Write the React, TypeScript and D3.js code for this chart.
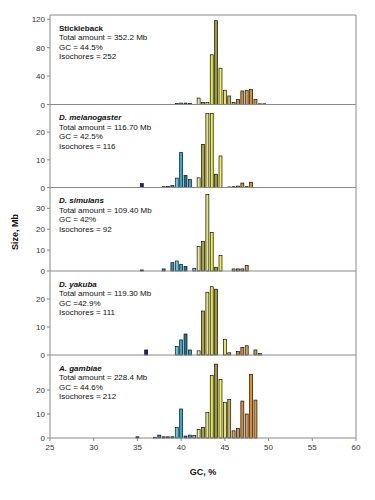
import React from "react";
import * as d3 from "d3";

// GC bins (%), shared by all panels
const gcBins = [35, 35.5, 36, 36.5, 37, 37.5, 38, 38.5, 39, 39.5, 40, 40.5, 41, 41.5, 42, 42.5, 43, 43.5, 44, 44.5, 45, 45.5, 46, 46.5, 47, 47.5, 48, 48.5, 49, 49.5];

// Sizes (Mb) per bin
const sticklebackSize = [0, 0, 0, 0, 0, 0, 0, 0, 0, 1.5, 2, 2, 1.5, 0, 9, 3, 3, 70, 118, 51, 20, 12, 3, 7, 19, 20, 21, 7, 1, 1];
const melanogasterSize = [0, 1.4, 0, 0, 0, 0, 0.3, 0.4, 0.7, 3.4, 12.6, 4.4, 2.9, 0, 3.5, 15.6, 26.7, 26.7, 4.8, 11.4, 0, 0.2, 0.3, 0.5, 1.6, 0.3, 1.9, 0, 0, 0];
const simulansSize = [0, 0.5, 0, 0, 0, 0, 1, 0, 4, 4.8, 3.2, 2.1, 0, 1.3, 11.8, 14.2, 36.7, 18.5, 1.8, 7.4, 0, 0, 1, 1, 1, 2.6, 0, 0, 0, 0];
const yakubaSize = [0, 0, 1.8, 0, 0, 0, 0, 0, 0, 3, 5.4, 7.5, 1.8, 0, 1.5, 15.7, 22.4, 24.4, 23.5, 0, 5.6, 0.8, 0, 1.2, 2.7, 3.3, 0, 1.8, 0.5, 0];
const gambiaeSize = [0.5, 0, 0, 0, 0.3, 1.2, 0.5, 0.5, 0.5, 4.4, 12.1, 0.8, 1.2, 1.0, 3.6, 4.4, 10.6, 26, 30.8, 24.4, 14.9, 16.1, 3.0, 4.0, 15.4, 10, 26.5, 15.8, 0, 0];

// Bar colours per bin
const binColors = ["#1c1c8a", "#1c1c8a", "#1c1c8a", "#24407a", "#2c7c9e", "#2c8cae", "#2c8cae", "#2c8cae", "#3090b0", "#66cce8", "#2eaad4", "#1f7a96", "#34a0c8", "#8fc0c8", "#eeee9a", "#a8a63a", "#e6e670", "#eaea3c", "#9c9a34", "#f4f04a", "#e8e460", "#c4b45c", "#c8a868", "#b89858", "#d88c3a", "#d8a060", "#e88a1c", "#d49a48", "#c8a870", "#c8a870"];

const speciesNames = ["Stickleback", "D. melanogaster", "D. simulans", "D. yakuba", "A. gambiae"];
const speciesItalic = [false, true, true, true, true];
const totalLabels = ["Total amount = 352.2 Mb", "Total amount = 116.70 Mb", "Total amount = 109.40 Mb", "Total amount = 119.30 Mb", "Total amount = 228.4 Mb"];
const gcLabels = ["GC = 44.5%", "GC = 42.5%", "GC = 42%", "GC =42.9%", "GC = 44.6%"];
const isochoreLabels = ["Isochores = 252", "Isochores = 116", "Isochores = 92", "Isochores = 111", "Isochores = 212"];
const panelMax = [126, 30, 40, 30, 34.6];
const panelTicks = [[0, 40, 80, 120], [0, 10, 20], [0, 10, 20, 30], [0, 10, 20], [0, 10, 20]];
const xTicks = [25, 30, 35, 40, 45, 50, 55, 60];

const panelSizes = [sticklebackSize, melanogasterSize, simulansSize, yakubaSize, gambiaeSize];

const W = 375;
const H = 500;
const left = 50;
const right = 356;
const bounds = [15, 104.5, 187.5, 271, 355, 438];
const font = "'Liberation Sans', Arial, sans-serif";

export default function App() {
  const x = d3.scaleLinear().domain([25, 60]).range([left, right]);
  const barW = (x(25.5) - x(25)) * 0.68;
  const axisColor = "#8a8a8a";

  return (
    <svg width={W} height={H} style={{ position: "absolute", left: 0, top: 0, background: "#fff" }} fontFamily={font}>
      <rect x={0} y={0} width={W} height={H} fill="#fff" />
      {panelSizes.map((vals, p) => {
        const top = bounds[p];
        const bottom = bounds[p + 1];
        const y = d3.scaleLinear().domain([0, panelMax[p]]).range([bottom, top]);
        return (
          <g key={p}>
            {gcBins.map((gc, i) =>
              vals[i] > 0 ? (
                <rect
                  key={i}
                  x={x(gc) - barW / 2}
                  y={y(vals[i])}
                  width={barW}
                  height={bottom - y(vals[i])}
                  fill={binColors[i]}
                  stroke="#111"
                  strokeWidth={0.7}
                />
              ) : null
            )}
            <line x1={left} x2={right} y1={bottom} y2={bottom} stroke={axisColor} strokeWidth={1} />
            {panelTicks[p].map((t) => (
              <g key={t}>
                <line x1={left - 3} x2={left} y1={y(t)} y2={y(t)} stroke={axisColor} />
                <text x={left - 5} y={y(t) + 3} fontSize={8} textAnchor="end" fill="#333">
                  {t}
                </text>
              </g>
            ))}
            <text x={59} y={top + 15.5} fontSize={8} fontWeight="bold" fontStyle={speciesItalic[p] ? "italic" : "normal"} fill="#111">
              {speciesNames[p]}
            </text>
            <text x={59} y={top + 25} fontSize={8} fill="#111">{totalLabels[p]}</text>
            <text x={59} y={top + 34.5} fontSize={8} fill="#111">{gcLabels[p]}</text>
            <text x={59} y={top + 44} fontSize={8} fill="#111">{isochoreLabels[p]}</text>
          </g>
        );
      })}
      <line x1={left} x2={right} y1={bounds[0]} y2={bounds[0]} stroke={axisColor} />
      <line x1={left} x2={left} y1={bounds[0]} y2={bounds[5]} stroke={axisColor} />
      <line x1={right} x2={right} y1={bounds[0]} y2={bounds[5]} stroke={axisColor} />
      {xTicks.map((t) => (
        <g key={t}>
          <line x1={x(t)} x2={x(t)} y1={bounds[5]} y2={bounds[5] + 3} stroke={axisColor} />
          <text x={x(t)} y={bounds[5] + 12} fontSize={8} textAnchor="middle" fill="#333">
            {t}
          </text>
        </g>
      ))}
      <text x={(left + right) / 2} y={475} fontSize={9} fontWeight="bold" textAnchor="middle" fill="#111">
        GC, %
      </text>
      <text transform="translate(18,232) rotate(-90)" fontSize={9} fontWeight="bold" textAnchor="middle" fill="#111">
        Size, Mb
      </text>
    </svg>
  );
}
